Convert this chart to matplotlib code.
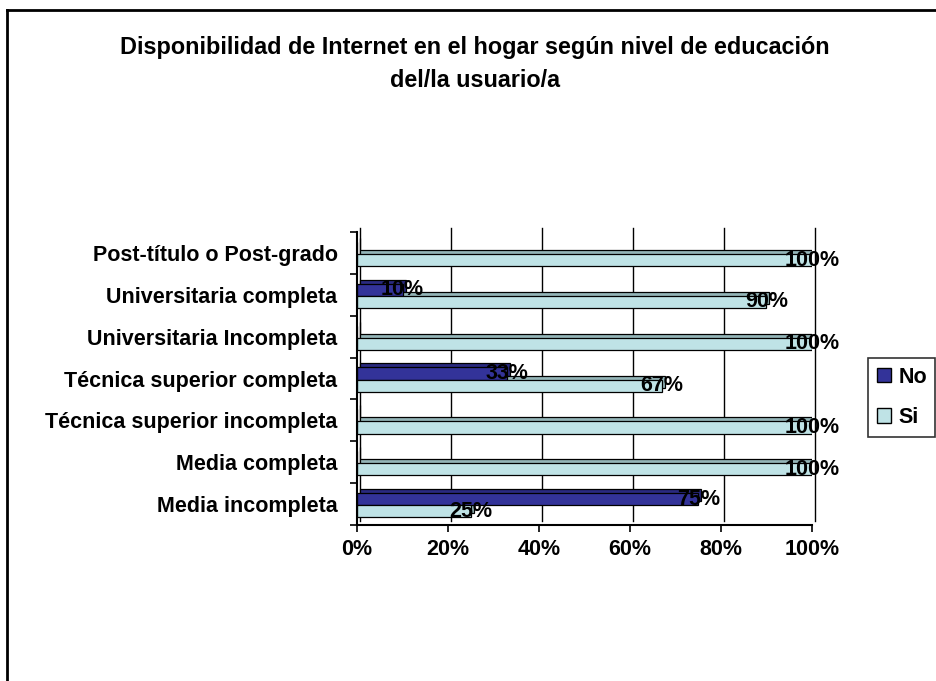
"""Disponibilidad de Internet en el hogar según nivel de educación - barras horizontales estilo 3D."""
import matplotlib
matplotlib.use('Agg')
import matplotlib.pyplot as plt
import matplotlib.transforms as mtransforms
from matplotlib.lines import Line2D
from matplotlib.patches import Patch
import numpy as np

plt.rcParams['font.family'] = ['Liberation Sans', 'DejaVu Sans']
plt.rcParams['font.weight'] = 'bold'

# Datos (porcentaje de usuarios), de abajo hacia arriba
niveles = ['Media incompleta', 'Media completa', 'Técnica superior incompleta',
           'Técnica superior completa', 'Universitaria Incompleta',
           'Universitaria completa', 'Post-título o Post-grado']
no_pct = [75, 0, 0, 33, 0, 10, 0]
si_pct = [25, 100, 100, 67, 100, 90, 100]
ticks_x = [0, 20, 40, 60, 80, 100]

COLOR_NO = '#333399'
COLOR_NO_SIDE = '#2a2a80'
COLOR_SI = '#bfe3e6'
COLOR_SI_SIDE = '#94b5b8'

FS = 15.5

fig = plt.figure(figsize=(9.37, 6.81), dpi=100)
ax = fig.add_axes([357 / 937, 1 - 525 / 681, 455 / 937, 293 / 681])

# desplazamiento de profundidad (efecto 3D)
depth = mtransforms.ScaledTranslation(0.03, 0.04, fig.dpi_scale_trans)
back = ax.transData + depth

y = np.arange(len(niveles))
h = 0.29
y_no = y + 0.12
y_si = y - 0.17

# pared del fondo: líneas de grilla desplazadas
for t in ticks_x:
    ax.plot([t, t], [-0.5, 6.5], color='black', lw=1.0, transform=back,
            clip_on=False, zorder=1)

# caras traseras de las barras (tapa superior y lateral)
ax.barh(y_no, no_pct, height=h, color=COLOR_NO_SIDE, edgecolor='black',
        linewidth=0.9, transform=back, zorder=2)
ax.barh(y_si, si_pct, height=h, color=COLOR_SI_SIDE, edgecolor='black',
        linewidth=0.9, transform=back, zorder=2)
# caras frontales
ax.barh(y_no, no_pct, height=h, color=COLOR_NO, edgecolor='black',
        linewidth=0.9, zorder=3, label='No')
ax.barh(y_si, si_pct, height=h, color=COLOR_SI, edgecolor='black',
        linewidth=0.9, zorder=3, label='Si')

# etiquetas de valor
for yy, v in zip(y_no, no_pct):
    if v > 0:
        ax.text(v, yy, f'{v}%', ha='center', va='center', fontsize=FS,
                fontweight='bold', zorder=5, clip_on=False)
for yy, v in zip(y_si, si_pct):
    if v > 0:
        ax.text(v, yy, f'{v}%', ha='center', va='center', fontsize=FS,
                fontweight='bold', zorder=5, clip_on=False)

ax.set_xlim(0, 100)
ax.set_ylim(-0.5, 6.5)
ax.set_xticks(ticks_x)
ax.set_xticklabels([f'{t}%' for t in ticks_x], fontsize=FS, fontweight='bold')
ax.set_yticks(y)
ax.set_yticklabels(niveles, fontsize=FS, fontweight='bold')
ax.set_yticks(np.arange(-0.5, 7, 1), minor=True)
ax.tick_params(axis='y', which='major', length=0, pad=14)
ax.tick_params(axis='y', which='minor', length=5, width=1.2, direction='out')
ax.tick_params(axis='x', length=5, width=1.2, direction='out', pad=5)

for s in ['top', 'right']:
    ax.spines[s].set_visible(False)
for s in ['left', 'bottom']:
    ax.spines[s].set_linewidth(1.5)
    ax.spines[s].set_zorder(4)
ax.patch.set_alpha(0)

fig.text(0.507, 0.930, 'Disponibilidad de Internet en el hogar según nivel de educación',
         ha='center', va='center', fontsize=16.8, fontweight='bold')
fig.text(0.507, 0.882, 'del/la usuario/a', ha='center', va='center',
         fontsize=16.8, fontweight='bold')

handles = [Patch(facecolor=COLOR_NO, edgecolor='black', label='No'),
           Patch(facecolor=COLOR_SI, edgecolor='black', label='Si')]
leg = fig.legend(handles=handles, loc='upper left',
                 bbox_to_anchor=(868 / 937, 1 - 358 / 681),
                 fontsize=FS, frameon=True, fancybox=False,
                 handlelength=0.65, handleheight=0.65, handletextpad=0.35,
                 borderpad=0.4, labelspacing=0.9, borderaxespad=0)
leg.get_frame().set_edgecolor('black')
leg.get_frame().set_linewidth(1.2)
for t in leg.get_texts():
    t.set_fontweight('bold')

# marco exterior del gráfico
fig.add_artist(Line2D([7 / 937, 7 / 937], [0, 1 - 10 / 681], color='black',
                      lw=2, transform=fig.transFigure))
fig.add_artist(Line2D([7 / 937, 1], [1 - 10 / 681, 1 - 10 / 681], color='black',
                      lw=2, transform=fig.transFigure))

fig.savefig('out.png', dpi=100, facecolor='white')
plt.close(fig)
